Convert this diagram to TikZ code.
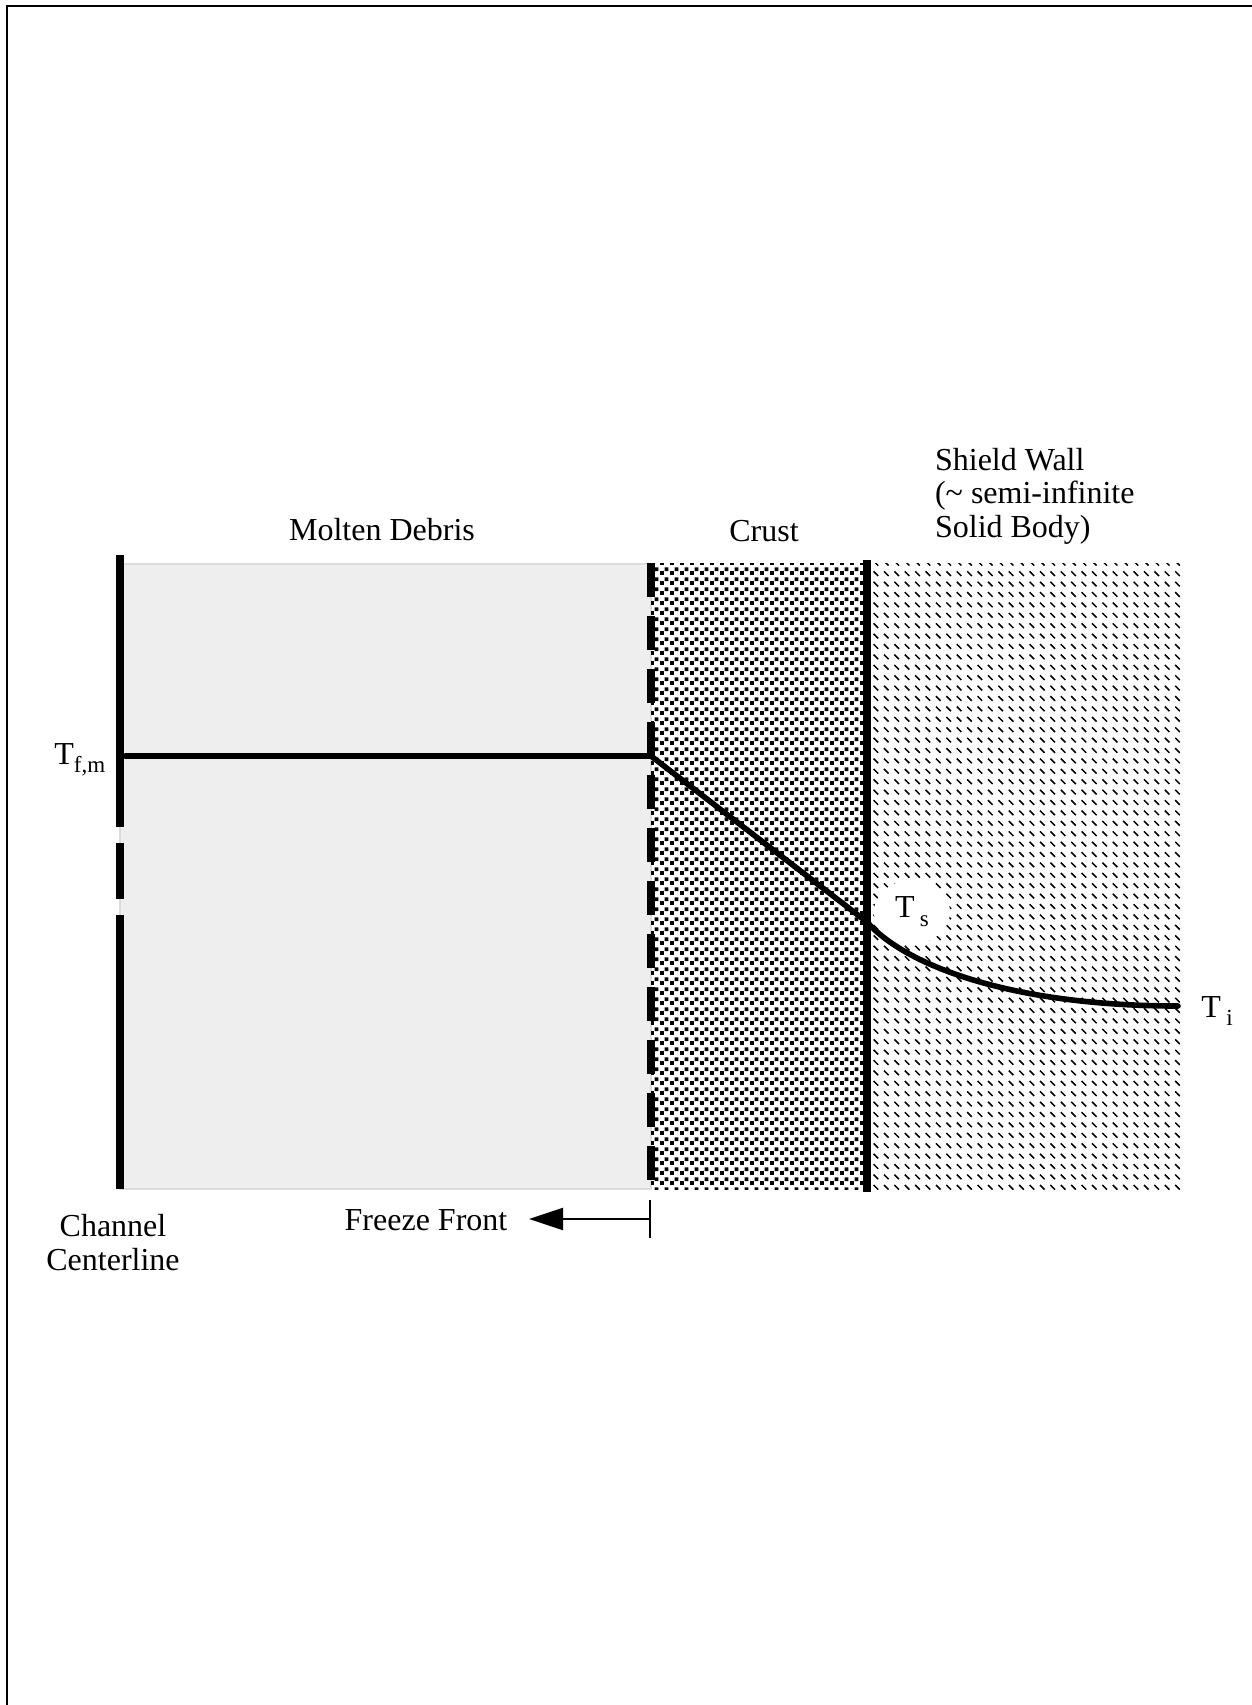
\documentclass[tikz,border=0pt]{standalone}
\usepackage{fontspec}
\setmainfont{Liberation Serif}
\usetikzlibrary{arrows.meta,shapes.geometric,patterns}
\pgfdeclarepatternformonly{crust dots}{\pgfpointorigin}{\pgfpoint{5pt}{5pt}}{\pgfpoint{5pt}{5pt}}{%
  \pgfpathrectangle{\pgfpoint{0pt}{0pt}}{\pgfpoint{2.1pt}{2.1pt}}
  \pgfpathrectangle{\pgfpoint{2.5pt}{2.1pt}}{\pgfpoint{2.1pt}{2.1pt}}
  \pgfusepath{fill}}
\pgfdeclarepatternformonly{wall dashes}{\pgfpoint{-0.5pt}{-0.5pt}}{\pgfpoint{5.7pt}{5.7pt}}{\pgfpoint{5.2pt}{5.2pt}}{%
  \pgfsetlinewidth{0.75pt}
  \pgfpathmoveto{\pgfpoint{0pt}{5.2pt}}
  \pgfpathlineto{\pgfpoint{2.3pt}{2.9pt}}
  \pgfusepath{stroke}}
\newcommand{\subtxt}[1]{\raisebox{-0.28em}{\fontsize{11.5}{12}\selectfont #1}}
\begin{document}
\begin{tikzpicture}[x=0.5pt,y=-0.5pt,line join=miter,
  font=\fontsize{16}{16.75}\selectfont,
  wallbar/.style={line width=4pt},
  profile/.style={line width=2.8pt,line cap=round},
  frontarrow/.style={line width=1pt,{Bar[width=19pt]}-{Triangle[length=17pt,width=11pt]}}]
\useasboundingbox (0,0) rectangle (1252,1705);
\draw[line width=1pt] (7,1705) -- (7,6) -- (1252,6);
% regions
\filldraw[fill=gray!13,draw=gray!28,line width=1pt] (120,564) rectangle (651,1189);
\fill[pattern=crust dots] (651,563) rectangle (867,1189);
\fill[pattern=wall dashes] (867,563) rectangle (1180,1189);
% region labels
\node[anchor=base] (molten) at (382,540) {Molten Debris};
\node[anchor=base] (crust) at (764,541) {Crust};
\node[anchor=base west,align=left] (wall) at (928,537) {Shield Wall\\(\textasciitilde{} semi-infinite\\Solid Body)};
\node[anchor=base,align=center] (axis) at (113,1270) {Channel\\Centerline};
\node[anchor=base] (freeze) at (426,1230) {Freeze Front};
% temperatures
\node[anchor=base west,inner sep=0pt] (tfm) at (54,764) {T\subtxt{f,m}};
\node[ellipse,fill=white,inner sep=1pt,minimum width=38pt,minimum height=32pt] (ts) at (912,912) {T\,\subtxt{s}};
\node[anchor=base west,inner sep=0pt] (ti) at (1201,1017) {T\,\subtxt{i}};
% boundaries
\draw[wallbar] (120,555) -- (120,827) (120,843) -- (120,899) (120,915) -- (120,1189);
\draw[wallbar,dash pattern=on 17pt off 9.5pt] (651,563) -- (651,1189);
\draw[wallbar] (867,560) -- (867,1192);
% profile
\coordinate (start) at (125,756);
\coordinate (melt) at (651,756);
\coordinate (surf) at (867,922);
\coordinate (far) at (1178,1006);
\draw[profile] (start) -- (melt) -- (surf) .. controls (905,965) and (1010,1006) .. (far);
% freeze front arrow
\coordinate (front) at (651,1219);
\coordinate (tip) at (529,1219);
\draw[frontarrow] (front) -- (tip);
\end{tikzpicture}
\end{document}
